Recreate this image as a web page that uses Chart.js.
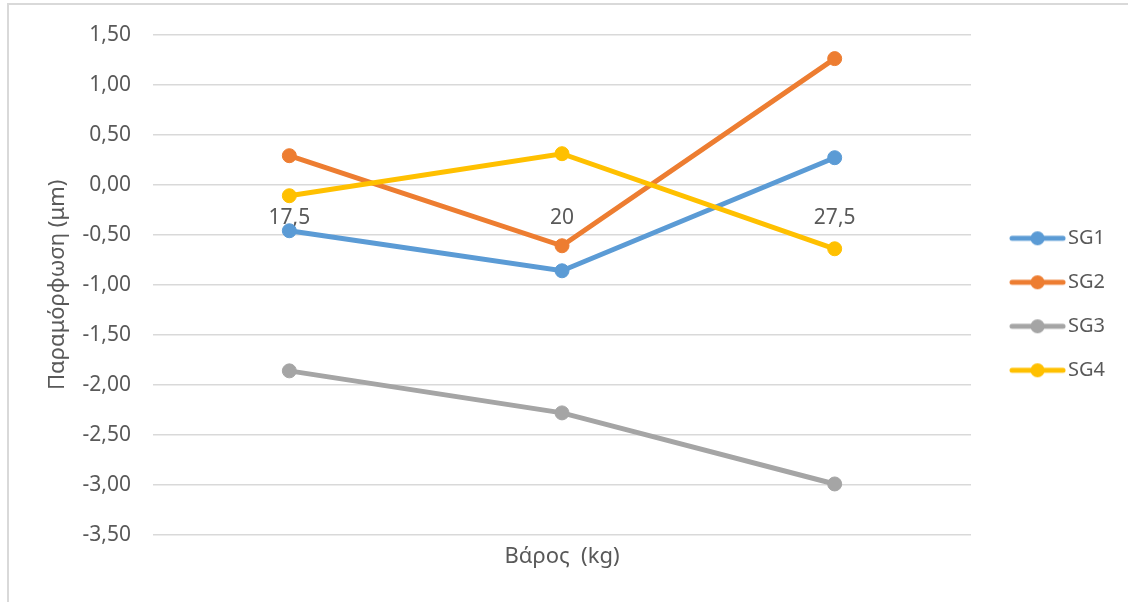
<!DOCTYPE html>
<html>
<head>
<meta charset="utf-8">
<script src="https://cdn.jsdelivr.net/npm/chart.js@4/dist/chart.umd.min.js"></script>
<style>
  html, body { margin: 0; padding: 0; background: #ffffff; }
  #wrap { position: relative; width: 1128px; height: 602px; overflow: hidden; }
  #frame { position: absolute; left: 7px; top: 3px; width: 1140px; height: 620px;
           border: 2px solid #d9d9d9; box-sizing: border-box; }
  #chart { position: absolute; left: 0; top: 0; }
</style>
</head>
<body>
<div id="wrap">
  <div id="frame"></div>
  <canvas id="chart" width="1128" height="602"></canvas>
</div>
<script>
// Load values (kg) on the category axis
const categories = ['17,5', '20', '27,5'];

// Strain gauge readings (μm)
const sg1 = [-0.46, -0.86, 0.27];
const sg2 = [0.29, -0.61, 1.26];
const sg3 = [-1.86, -2.28, -2.99];
const sg4 = [-0.11, 0.31, -0.64];

const seriesNames = ['SG1', 'SG2', 'SG3', 'SG4'];
const seriesColors = ['#5B9BD5', '#ED7D31', '#A5A5A5', '#FFC000'];

const TEXT = '#595959';
const FONT = "'Noto Sans', 'DejaVu Sans', sans-serif";

// Legend swatch: a short line with a marker in the middle
function swatch(color) {
  const c = document.createElement('canvas');
  c.width = 57; c.height = 16;
  const g = c.getContext('2d');
  g.strokeStyle = color;
  g.lineWidth = 5;
  g.lineCap = 'round';
  g.beginPath(); g.moveTo(3, 8); g.lineTo(54, 8); g.stroke();
  g.fillStyle = color;
  g.beginPath(); g.arc(28.5, 8, 7, 0, Math.PI * 2); g.fill();
  return c;
}

const values = [sg1, sg2, sg3, sg4];
const datasets = values.map((v, i) => ({
  label: seriesNames[i],
  data: v,
  borderColor: seriesColors[i],
  backgroundColor: seriesColors[i],
  pointBackgroundColor: seriesColors[i],
  pointBorderColor: seriesColors[i],
  borderWidth: 5,
  pointRadius: 7,
  pointBorderWidth: 1,
  pointHoverRadius: 7,
  tension: 0,
  order: 3 - i,
  xAxisID: 'x',
  yAxisID: 'y'
}));

const fmt = v => v.toFixed(2).replace('.', ',');

new Chart(document.getElementById('chart'), {
  type: 'line',
  data: { labels: categories, datasets },
  options: {
    responsive: false,
    animation: false,
    events: [],
    layout: { padding: { left: 20, right: 13, top: 32, bottom: 31.6 } },
    plugins: {
      tooltip: { enabled: false },
      title: {
        display: true,
        text: 'Βάρος  (kg)',
        position: 'bottom',
        fullSize: false,
        color: TEXT,
        font: { family: FONT, size: 22, weight: 'normal' },
        padding: { top: 9, bottom: 0 }
      },
      legend: {
        position: 'right',
        fullSize: false,
        title: { display: true, text: '', font: { size: 10 }, padding: 13.5 },
        labels: {
          usePointStyle: true,
          pointStyleWidth: 41,
          boxHeight: 14,
          padding: 24,
          color: TEXT,
          font: { family: FONT, size: 20 },
          generateLabels: chart => chart.data.datasets.map((ds, i) => ({
            text: ds.label,
            fillStyle: ds.borderColor,
            strokeStyle: ds.borderColor,
            lineWidth: 0,
            pointStyle: swatch(ds.borderColor),
            fontColor: TEXT,
            hidden: !chart.isDatasetVisible(i),
            datasetIndex: i
          }))
        }
      }
    },
    scales: {
      x: {
        type: 'category',
        position: { y: 0 },
        offset: true,
        grid: { display: false },
        border: { display: false },
        ticks: {
          color: TEXT,
          padding: 13,
          maxRotation: 0,
          font: { family: FONT, size: 21 }
        }
      },
      y: {
        type: 'linear',
        position: 'left',
        min: -3.5,
        max: 1.5,
        afterFit: s => { s.width = 133; },
        grid: { color: '#d9d9d9', lineWidth: 1.5, drawTicks: false },
        border: { display: false },
        ticks: {
          stepSize: 0.5,
          padding: 22,
          color: TEXT,
          font: { family: FONT, size: 21 },
          callback: v => fmt(v)
        },
        title: {
          display: true,
          text: 'Παραμόρφωση (μm)',
          color: TEXT,
          font: { family: FONT, size: 22 },
          padding: { top: 25, bottom: 0 }
        }
      },
      gap: {
        type: 'linear',
        position: 'right',
        display: true,
        afterFit: s => { s.width = 22; },
        grid: { display: false },
        border: { display: false },
        ticks: { display: false }
      }
    }
  }
});
</script>
</body>
</html>
